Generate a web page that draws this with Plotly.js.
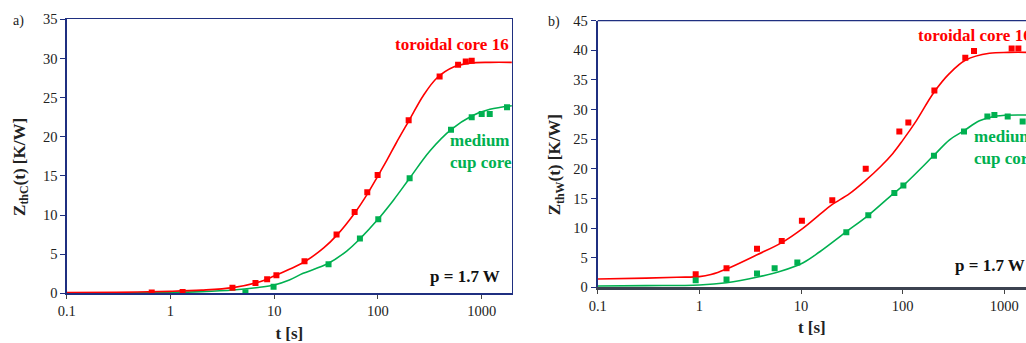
<!DOCTYPE html>
<html>
<head>
<meta charset="utf-8">
<script src="https://cdn.plot.ly/plotly-3.0.1.min.js"></script>
<style>html,body{margin:0;padding:0;background:#fff;}#chart{width:1026px;height:343px;}</style>
</head>
<body>
<div id="chart"></div>
<script>
// ---- Data ----
// Panel a) : Z_thC(t)
const tA_redMeas = [0.66, 1.31, 3.96, 6.6, 8.55, 10.5, 19.6, 39.9, 59.6, 78.9, 99.3, 197.7, 393, 592, 702, 801];
const zA_redMeas = [0.1, 0.17, 0.7, 1.3, 1.8, 2.3, 4.1, 7.5, 10.4, 12.9, 15.1, 22.1, 27.7, 29.2, 29.6, 29.7];
const tA_greenMeas = [1.31, 5.28, 9.86, 33.4, 67, 100.7, 202, 506, 801, 1000, 1195, 1754];
const zA_greenMeas = [0.05, 0.13, 0.85, 3.7, 7.0, 9.45, 14.7, 20.9, 22.5, 22.9, 22.9, 23.75];
const tA_redFit = [0.1, 0.3, 1, 2, 4, 7, 10, 14, 20, 30, 40, 60, 80, 100, 122, 150, 200, 275, 370, 535, 774, 1200, 1950];
const zA_redFit = [0.08, 0.12, 0.25, 0.4, 0.72, 1.4, 2.2, 3.06, 4.1, 5.8, 7.4, 10.3, 12.8, 15.0, 17.0, 19.2, 22.1, 25.3, 27.5, 28.9, 29.4, 29.5, 29.5];
const tA_greenFit = [0.1, 0.3, 1, 2, 4, 7, 10, 14, 19, 33, 50, 67, 100, 141, 202, 318, 506, 801, 1200, 1950];
const zA_greenFit = [0.04, 0.06, 0.12, 0.22, 0.42, 0.75, 1.06, 1.7, 2.55, 3.8, 5.4, 6.95, 9.45, 11.9, 14.7, 18.2, 20.9, 22.65, 23.5, 23.96];

// Panel b) : Z_thW(t)
const tB_redMeas = [0.92, 1.85, 3.69, 6.46, 10.2, 20.3, 43.3, 92.7, 113.7, 205, 413, 503, 1180, 1374];
const zB_redMeas = [2.2, 3.2, 6.5, 7.8, 11.25, 14.7, 20.0, 26.3, 27.8, 33.2, 38.75, 39.9, 40.3, 40.3];
const tB_greenMeas = [0.92, 1.85, 3.69, 5.5, 9.2, 27.9, 45.9, 82.8, 101.6, 203, 401, 681, 798, 1079, 1514];
const zB_greenMeas = [1.2, 1.3, 2.35, 3.2, 4.2, 9.3, 12.15, 15.9, 17.2, 22.2, 26.3, 28.85, 29.1, 28.85, 28.0];
const tB_redFit = [0.1, 0.3, 0.6, 1, 1.3, 1.85, 3.65, 6.4, 10.5, 15.3, 20, 30, 43, 60, 80, 100, 136, 201, 289, 421, 714, 1100, 1640];
const zB_redFit = [1.4, 1.55, 1.7, 1.8, 2.15, 3.09, 5.45, 7.5, 10.0, 12.3, 13.9, 15.8, 18.0, 20.3, 22.6, 24.8, 28.1, 32.8, 36.1, 38.4, 39.5, 39.65, 39.66];
const tB_greenFit = [0.1, 0.3, 1, 1.85, 3.65, 6.4, 10.5, 15.3, 27.5, 45.9, 82, 101.6, 201, 289, 399, 569, 832, 1640];
const zB_greenFit = [0.22, 0.28, 0.39, 0.78, 1.69, 2.75, 4.15, 6.0, 9.3, 12.15, 15.9, 17.2, 22.2, 24.9, 26.4, 28.1, 28.9, 29.08];

const xTickVals = [0.1, 1, 10, 100, 1000];
const xTickText = ['0.1', '1', '10', '100', '1000'];

// ---- Styles ----
const RED = '#ff0000';
const GREEN = '#00b050';
const NAVY = '#1f2f80';
const FONT = 'Liberation Serif, Times New Roman, serif';
const W = 1026, H = 343;
const px = v => v / W;
const py = v => 1 - v / H;
const PAD = '&nbsp;&nbsp;&nbsp;&nbsp;&nbsp;';

function fit(t, z, color, xa, ya) {
  return {x: t, y: z, xaxis: xa, yaxis: ya, type: 'scatter', mode: 'lines',
    line: {color: color, width: 1.6, shape: 'spline', smoothing: 1}, hoverinfo: 'skip', showlegend: false};
}
function meas(t, z, color, xa, ya) {
  return {x: t, y: z, xaxis: xa, yaxis: ya, type: 'scatter', mode: 'markers',
    marker: {symbol: 'square', size: 6, color: color}, showlegend: false};
}

const data = [
  fit(tA_greenFit, zA_greenFit, GREEN, 'x', 'y'),
  fit(tA_redFit, zA_redFit, RED, 'x', 'y'),
  meas(tA_greenMeas, zA_greenMeas, GREEN, 'x', 'y'),
  meas(tA_redMeas, zA_redMeas, RED, 'x', 'y'),
  fit(tB_greenFit, zB_greenFit, GREEN, 'x2', 'y2'),
  fit(tB_redFit, zB_redFit, RED, 'x2', 'y2'),
  meas(tB_greenMeas, zB_greenMeas, GREEN, 'x2', 'y2'),
  meas(tB_redMeas, zB_redMeas, RED, 'x2', 'y2')
];

const tickFont = {family: FONT, size: 14.5, color: '#222'};
const titleFont = {family: FONT, size: 17, color: '#222'};

function xAxis(domain, range, anchor, lineColor, lineWidth, mirror, standoff) {
  return {domain: domain, type: 'log', range: range, anchor: anchor,
    tickmode: 'array', tickvals: xTickVals, ticktext: xTickText,
    ticks: 'outside', ticklen: 4, tickcolor: '#444', tickwidth: 1,
    showline: true, linecolor: lineColor, linewidth: lineWidth, mirror: mirror,
    showgrid: false, zeroline: false, tickfont: tickFont, automargin: false,
    title: {text: '<b>t [s]</b>', font: titleFont, standoff: standoff}};
}
function yAxis(domain, range, anchor, titleText, mirror, standoff) {
  return {domain: domain, range: range, anchor: anchor, dtick: 5,
    ticks: 'outside', ticklen: 5, tickcolor: NAVY, tickwidth: 1,
    showline: true, linecolor: NAVY, linewidth: mirror ? 1.3 : 2, mirror: mirror,
    showgrid: false, zeroline: false, tickfont: tickFont, automargin: false,
    title: {text: titleText, font: titleFont, standoff: standoff}};
}

const layout = {
  width: W, height: H,
  margin: {l: 0, r: 0, t: 0, b: 0},
  paper_bgcolor: '#fff', plot_bgcolor: '#fff',
  font: {family: FONT},
  showlegend: false,
  xaxis: xAxis([px(66.7), px(512)], [-1, 3.292], 'y', NAVY, 1.3, true, 10),
  yaxis: yAxis([1 - 293.3 / H, 1 - 19.3 / H], [0, 35], 'x', '<b>Z<sub>thC</sub>(t) [K/W]' + PAD + '</b>', true, 13),
  xaxis2: xAxis([px(597.7), 1], [-1, 3.213], 'y2', '#3c4250', 2.5, false, 8),
  yaxis2: yAxis([1 - 287.3 / H, 1 - 20.7 / H], [0, 45], 'x2', '<b>Z<sub>thW</sub>(t) [K/W]' + PAD + '</b>', false, 8),
  shapes: [
    {type: 'line', xref: 'paper', yref: 'paper', x0: px(597.7), x1: 1, y0: py(20.7), y1: py(20.7),
     line: {color: NAVY, width: 1.3}}
  ],
  annotations: [
    {text: 'a)', xref: 'paper', yref: 'paper', x: px(11), y: py(21), xanchor: 'left', yanchor: 'middle',
     showarrow: false, font: {family: FONT, size: 14, color: '#222'}},
    {text: 'b)', xref: 'paper', yref: 'paper', x: px(546), y: py(22.5), xanchor: 'left', yanchor: 'middle',
     showarrow: false, font: {family: FONT, size: 14, color: '#222'}},
    {text: '<b>toroidal core 16</b>', xref: 'paper', yref: 'paper', x: px(392.7), y: py(44.5), xanchor: 'left', yanchor: 'middle',
     showarrow: false, font: {family: FONT, size: 17, color: RED}},
    {text: '<b>medium<br>cup core</b>', xref: 'paper', yref: 'paper', x: px(448), y: py(151.7), xanchor: 'left', yanchor: 'middle',
     align: 'left', showarrow: false, font: {family: FONT, size: 17, color: GREEN}},
    {text: '<b>p = 1.7 W</b>', xref: 'paper', yref: 'paper', x: px(428), y: py(276), xanchor: 'left', yanchor: 'middle',
     showarrow: false, font: {family: FONT, size: 17, color: '#111'}},
    {text: '<b>toroidal core 16</b>', xref: 'paper', yref: 'paper', x: px(915.7), y: py(35.5), xanchor: 'left', yanchor: 'middle',
     showarrow: false, font: {family: FONT, size: 17, color: RED}},
    {text: '<b>medium<br>cup core</b>', xref: 'paper', yref: 'paper', x: px(971.7), y: py(147), xanchor: 'left', yanchor: 'middle',
     align: 'left', showarrow: false, font: {family: FONT, size: 17, color: GREEN}},
    {text: '<b>p = 1.7 W</b>', xref: 'paper', yref: 'paper', x: px(952.7), y: py(265), xanchor: 'left', yanchor: 'middle',
     showarrow: false, font: {family: FONT, size: 17, color: '#111'}}
  ]
};

Plotly.newPlot('chart', data, layout, {staticPlot: true, displayModeBar: false});
</script>
</body>
</html>
